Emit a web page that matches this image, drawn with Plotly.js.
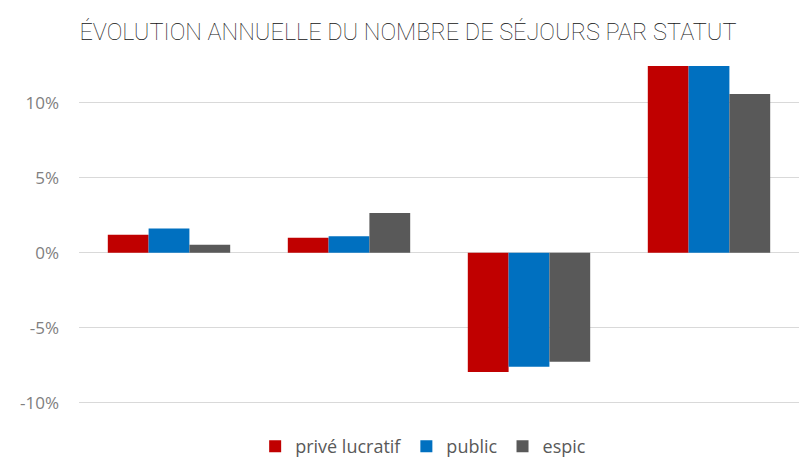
<!DOCTYPE html>
<html>
<head>
<meta charset="utf-8">
<script src="https://cdn.plot.ly/plotly-3.0.1.min.js"></script>
<style>html,body{margin:0;padding:0;background:#fff;}#chart{width:803px;height:462px;}</style>
</head>
<body>
<div id="chart"></div>
<script>
const categories = ["A", "B", "C", "D"];
const seriesNames = ["privé lucratif", "public", "espic"];
const priveLucratif = [1.2, 1.0, -7.95, 13.5];
const publicVals = [1.62, 1.1, -7.6, 13.5];
const espic = [0.53, 2.65, -7.27, 10.58];
const tickVals = [-10, -5, 0, 5, 10];
const tickText = ["-10%", "-5%", "0%", "5%", "10%"];

const colors = ["#C00000", "#0070C0", "#595959"];
const data = [priveLucratif, publicVals, espic].map((vals, i) => ({
  type: "bar",
  name: seriesNames[i],
  x: categories,
  y: vals,
  marker: { color: colors[i] },
  hoverinfo: "none"
}));

const layout = {
  width: 803,
  height: 462,
  margin: { l: 79, r: 4, t: 66, b: 10, autoexpand: false },
  paper_bgcolor: "#fff",
  plot_bgcolor: "#fff",
  barmode: "group",
  bargap: 0.32,
  bargroupgap: 0,
  title: {
    text: "ÉVOLUTION ANNUELLE DU NOMBRE DE SÉJOURS PAR STATUT",
    font: { family: "Roboto", size: 23.5, color: "#111111", weight: 100 },
    x: 0.508, xanchor: "center",
    y: 0.932, yanchor: "middle", yref: "container"
  },
  xaxis: {
    showticklabels: false,
    showgrid: false,
    zeroline: false,
    showline: false,
    ticks: ""
  },
  yaxis: {
    range: [-13.28, 12.45],
    tickvals: tickVals,
    ticktext: tickText,
    showgrid: true,
    gridcolor: "#D9D9D9",
    gridwidth: 1,
    zeroline: true,
    zerolinecolor: "#D9D9D9",
    zerolinewidth: 1,
    showline: false,
    ticks: "",
    ticklabelstandoff: 19,
    tickfont: { family: "Open Sans", size: 17, color: "#808080" }
  },
  showlegend: true,
  legend: {
    orientation: "h",
    x: 0.478, xanchor: "center",
    y: 0.014, yanchor: "middle",
    bgcolor: "rgba(0,0,0,0)",
    font: { family: "Open Sans", size: 18, color: "#595959" },
    itemwidth: 30,
    tracegroupgap: 0
  }
};

Plotly.newPlot("chart", data, layout, { displayModeBar: false, staticPlot: true });
</script>
</body>
</html>
